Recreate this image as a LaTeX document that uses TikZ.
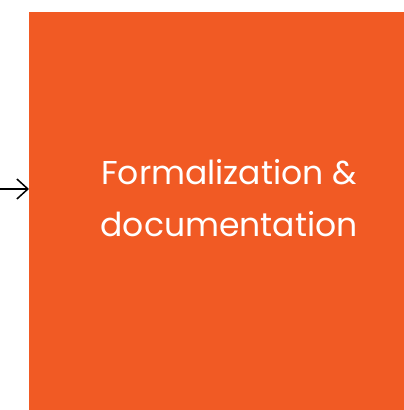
\documentclass[tikz,border=0pt]{standalone}
\usepackage{fontspec}
\setmainfont{Poppins}
\usetikzlibrary{arrows.meta, positioning, calc}
\definecolor{boxorange}{HTML}{F15A24}

\begin{document}
\begin{tikzpicture}[x=1pt,y=1pt]
			\useasboundingbox (0,0) rectangle (404,410);
			\node[fill=boxorange, minimum width=375pt, minimum height=398pt, inner sep=0pt, anchor=south west] (box) at (29,0) {};
			\node[text=white, align=center, font=\fontsize{33}{52}\selectfont] (label) at (229,212) {Formalization \&\\documentation};
			\coordinate (start) at (0,221);
			\draw[-{Straight Barb[length=11pt,width=20pt]}, line width=1.5pt] (start) -- (start -| box.west);
		\end{tikzpicture}
\end{document}
